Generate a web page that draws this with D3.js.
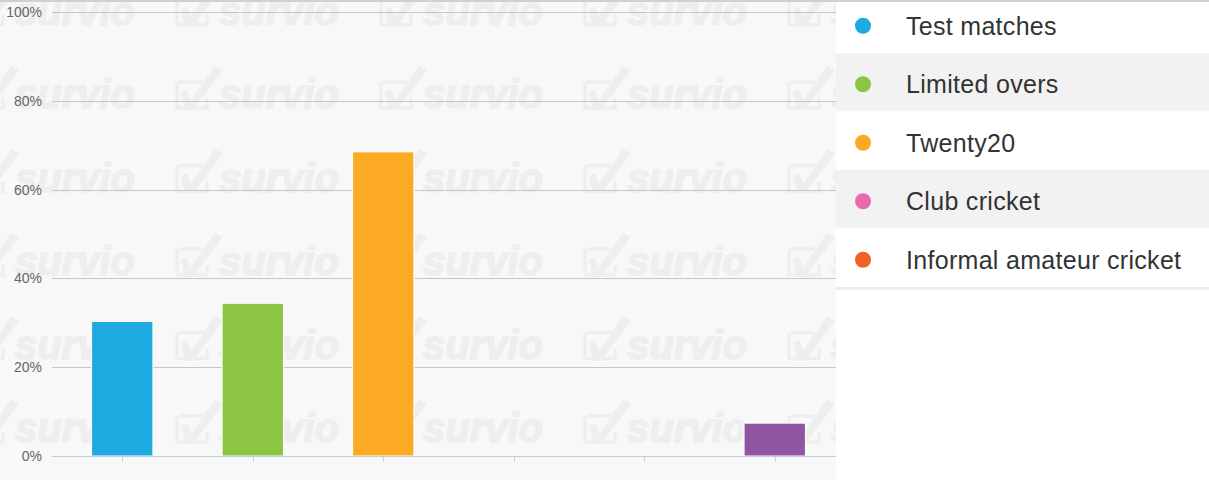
<!DOCTYPE html>
<html>
<head>
<meta charset="utf-8">
<script src="https://cdn.jsdelivr.net/npm/d3@7"></script>
<style>
  html, body { margin: 0; padding: 0; background: #fff; }
  svg { display: block; font-family: "Liberation Sans", Arial, sans-serif; }
</style>
</head>
<body>
<div id="chart"></div>
<script>
// ---- data ----
const categories = ["Test matches", "Limited overs", "Twenty20", "Club cricket",
  "Informal amateur cricket", "Other"];
const values = [30.3, 34.4, 68.5, 0, 0, 7.4];          // percent of respondents
const colors = ["#1ea9e1", "#8bc541", "#fcaa23", "#e96aac", "#f06125", "#8f55a0"];
const legendItems = categories.slice(0, 5);            // legend lists the first five
const yTicks = [0, 20, 40, 60, 80, 100];

const W = 1209, H = 480;
const plotRight = 836;                                 // legend panel starts here

const svg = d3.select("#chart").append("svg")
  .attr("width", W).attr("height", H);

// chart backdrop
svg.append("rect").attr("x", 0).attr("y", 0)
  .attr("width", plotRight).attr("height", H).attr("fill", "#f8f8f8");

// "survio" watermark tiles
const wmCols = [-27, 177, 381, 585, 789];
const wmRows = [24.5, 108, 191.5, 275, 358.5, 442];
const wm = svg.append("g").attr("fill", "#eeeeee").attr("stroke", "#eeeeee");
wmRows.forEach((by) => {
  wmCols.forEach((bx) => {
    const g = wm.append("g").attr("transform", `translate(${bx},${by})`);
    // check box
    g.append("path")
      .attr("d", "M2,-26 H26 M0,-26 V0 H30 V-10")
      .attr("fill", "none").attr("stroke-width", 3.5);
    // check mark
    g.append("path")
      .attr("d", "M4,-16 L10,-18 L14,-8 L38,-42 L46,-38 L16,2 L8,2 Z")
      .attr("stroke", "none");
    g.append("text")
      .attr("x", 42).attr("y", 0)
      .attr("stroke-width", 1.6)
      .style("font-size", "40px").style("font-weight", "bold").style("font-style", "italic")
      .text("survio");
  });
});

// scales
const x = d3.scaleBand().domain(categories).range([57, 840]);
const y = d3.scaleLinear().domain([0, 100]).range([456, 12]);
const barW = x.bandwidth() * 0.47;

// top border
svg.append("line").attr("x1", 0).attr("x2", W).attr("y1", 1).attr("y2", 1)
  .attr("stroke", "#d0d0d0").attr("stroke-width", 2);

// gridlines
svg.append("g").selectAll("line")
  .data(yTicks.filter((d) => d > 0)).join("line")
  .attr("x1", 52).attr("x2", plotRight)
  .attr("y1", (d) => Math.round(y(d)) + 0.5).attr("y2", (d) => Math.round(y(d)) + 0.5)
  .attr("stroke", "#c6c6c6");

// y labels
svg.append("g").selectAll("text")
  .data(yTicks).join("text")
  .attr("x", 42).attr("y", (d) => y(d)).attr("dy", "0.35em")
  .attr("text-anchor", "end")
  .attr("fill", "#666")
  .style("font-size", "14px")
  .text((d) => d + "%");

// bars
svg.append("g").selectAll("rect")
  .data(categories).join("rect")
  .attr("x", (d) => x(d) + x.bandwidth() / 2 - barW / 2)
  .attr("width", barW)
  .attr("y", (d, i) => y(values[i]))
  .attr("height", (d, i) => y(0) - y(values[i]))
  .attr("fill", (d, i) => colors[i])
  .attr("stroke", "#fff").attr("stroke-width", 1);

// x axis line + ticks (no labels)
const xAxis = svg.append("g").attr("transform", `translate(0,${y(0) + 0.5})`);
xAxis.append("line").attr("x1", 52).attr("x2", plotRight)
  .attr("stroke", "#c0d0e0");
xAxis.selectAll("line.tick").data(categories).join("line")
  .attr("class", "tick")
  .attr("x1", (d) => Math.round(x(d) + x.bandwidth() / 2) + 0.5)
  .attr("x2", (d) => Math.round(x(d) + x.bandwidth() / 2) + 0.5)
  .attr("y1", 0).attr("y2", 5)
  .attr("stroke", "#c0d0e0");

// legend panel
const rowH = 58.5, rowTop = -5.5;
const legend = svg.append("g").attr("transform", `translate(${plotRight},0)`);
legend.append("rect").attr("x", 0).attr("y", 2)
  .attr("width", W - plotRight).attr("height", H).attr("fill", "#fff");
const rows = legend.selectAll("g.row").data(legendItems).join("g")
  .attr("class", "row")
  .attr("transform", (d, i) => `translate(0,${rowTop + i * rowH})`);
rows.append("rect")
  .attr("y", (d, i) => (i === 0 ? 7.5 : 0))
  .attr("width", W - plotRight).attr("height", (d, i) => (i === 0 ? rowH - 7.5 : rowH))
  .attr("fill", (d, i) => (i % 2 ? "#f2f2f2" : "#fff"));
rows.append("circle")
  .attr("cx", 27).attr("cy", rowH / 2 + 2).attr("r", 8)
  .attr("fill", (d, i) => colors[i]);
rows.append("text")
  .attr("x", 70).attr("y", rowH / 2 + 2).attr("dy", "0.35em")
  .attr("fill", "#333")
  .style("font-size", "25px")
  .style("letter-spacing", "0.3px")
  .text((d) => d);
legend.append("rect")
  .attr("x", 0).attr("y", rowTop + legendItems.length * rowH)
  .attr("width", W - plotRight).attr("height", 3).attr("fill", "#ececec");
</script>
</body>
</html>
